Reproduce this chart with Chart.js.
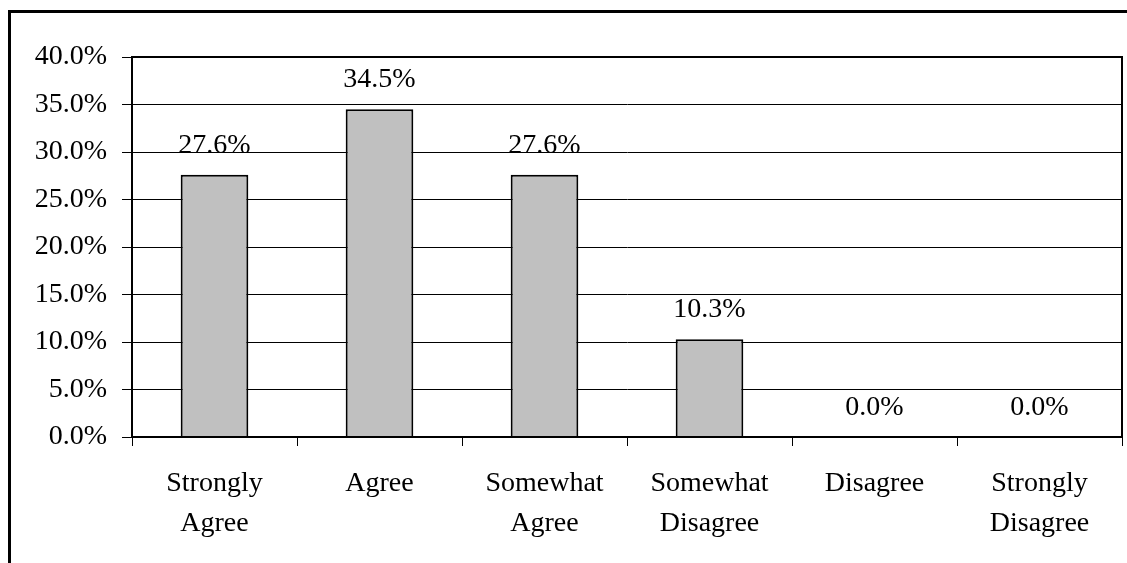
<!DOCTYPE html>
<html>
<head>
<meta charset="utf-8">
<script src="https://cdn.jsdelivr.net/npm/chart.js@4"></script>
<style>
  body { margin: 0; background: #fff; }
  #wrap { width: 1127px; height: 563px; position: relative; }
</style>
</head>
<body>
<div id="wrap"><canvas id="chart"></canvas></div>
<script>
// categories, split into two lines like the original
var categories = [
  ['Strongly', 'Agree'],
  ['Agree'],
  ['Somewhat', 'Agree'],
  ['Somewhat', 'Disagree'],
  ['Disagree'],
  ['Strongly', 'Disagree']
];
var percents = [27.6, 34.5, 27.6, 10.3, 0.0, 0.0];
var yMax = 40;
var yStep = 5;

var serif = "'Liberation Serif', 'Times New Roman', serif";

// frame round the whole picture + plot area box
var frame = {
  id: 'frame',
  beforeDraw: function(chart) {
    var c = chart.ctx;
    c.save();
    c.fillStyle = '#fff';
    c.fillRect(0, 0, chart.width, chart.height);
    c.fillStyle = '#000';
    c.fillRect(8, 10, 3, chart.height - 10);
    c.fillRect(8, 10, chart.width - 8, 3);
    c.restore();
  },
  afterDatasetsDraw: function(chart) {
    var a = chart.chartArea;
    var c = chart.ctx;
    c.save();
    c.strokeStyle = '#000';
    c.lineWidth = 2;
    c.strokeRect(a.left, a.top, a.right - a.left, a.bottom - a.top);
    c.restore();
  }
};

// value labels above bars
var valueLabels = {
  id: 'valueLabels',
  afterDatasetsDraw: function(chart) {
    var c = chart.ctx;
    var meta = chart.getDatasetMeta(0);
    c.save();
    c.font = '28px ' + serif;
    c.fillStyle = '#000';
    c.textAlign = 'center';
    c.textBaseline = 'alphabetic';
    meta.data.forEach(function(bar, i) {
      c.fillText(percents[i].toFixed(1) + '%', bar.x, bar.y - 22);
    });
    c.restore();
  }
};

new Chart(document.getElementById('chart'), {
  type: 'bar',
  data: {
    labels: categories,
    datasets: [{
      data: percents,
      backgroundColor: '#c0c0c0',
      borderColor: '#000',
      borderWidth: 2,
      barPercentage: 0.41,
      categoryPercentage: 1.0
    }]
  },
  options: {
    responsive: true,
    maintainAspectRatio: false,
    animation: false,
    layout: { padding: { top: 57, right: 5, left: 0, bottom: 0 } },
    plugins: {
      legend: { display: false },
      tooltip: { enabled: false }
    },
    scales: {
      x: {
        grid: {
          display: true,
          drawOnChartArea: false,
          drawTicks: true,
          tickLength: 9,
          color: '#000',
          offset: true
        },
        border: { display: true, color: '#000', width: 2 },
        ticks: {
          color: '#000',
          font: { family: serif, size: 28, lineHeight: 1.42 },
          padding: 18,
          maxRotation: 0,
          autoSkip: false
        },
        afterFit: function(s) { s.height = 126; }
      },
      y: {
        min: 0,
        max: yMax,
        grid: { color: '#000', lineWidth: 1, tickLength: 10 },
        border: { display: true, color: '#000', width: 2 },
        ticks: {
          stepSize: yStep,
          color: '#000',
          padding: 15,
          font: { family: serif, size: 28 },
          callback: function(v) { return v.toFixed(1) + '%'; }
        },
        afterFit: function(s) { s.width = 132; }
      }
    }
  },
  plugins: [frame, valueLabels]
});
</script>
</body>
</html>
